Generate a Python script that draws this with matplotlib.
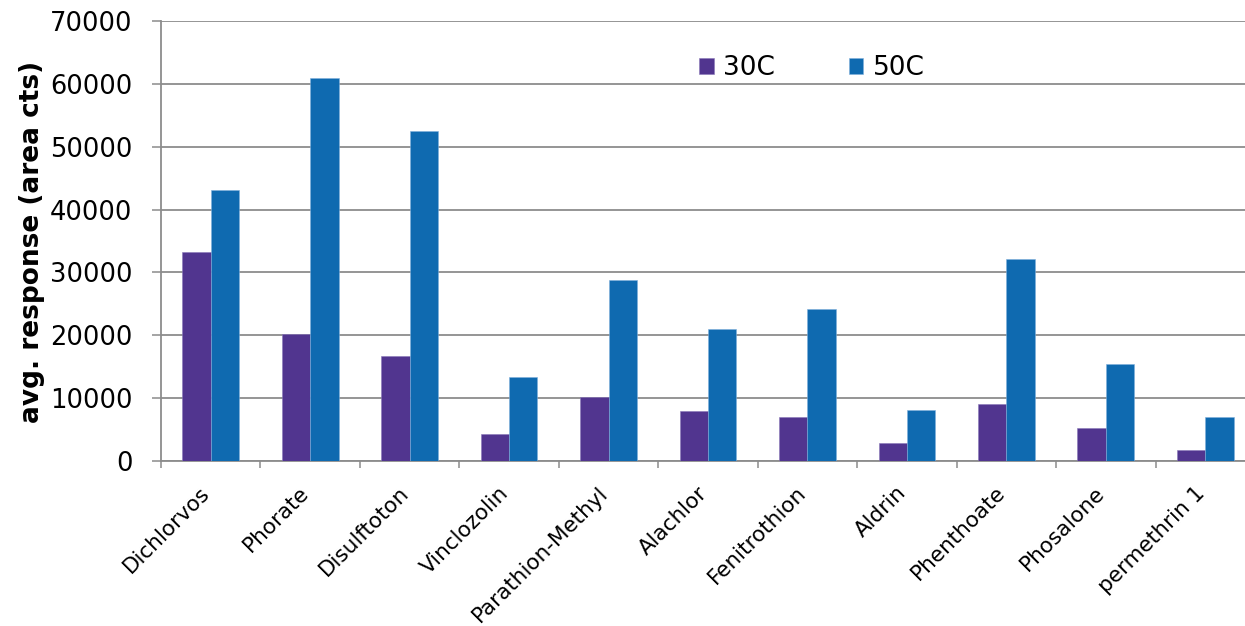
import numpy as np
import matplotlib
matplotlib.use("Agg")
import matplotlib.pyplot as plt
import matplotlib.transforms as mtransforms

# Data
compounds = ["Dichlorvos", "Phorate", "Disulftoton", "Vinclozolin", "Parathion-Methyl",
             "Alachlor", "Fenitrothion", "Aldrin", "Phenthoate", "Phosalone", "permethrin 1"]
resp_30c = [33200, 20250, 16700, 4250, 10200, 7950, 6950, 2850, 9000, 5200, 1750]
resp_50c = [43100, 61000, 52500, 13300, 28850, 21000, 24200, 8100, 32100, 15400, 7000]
y_ticks = np.arange(0, 70001, 10000)

purple = "#51358F"
blue = "#0F6AB0"
grid_grey = "#8C8C8C"

plt.rcParams["font.family"] = ["DejaVu Sans"]

fig = plt.figure(figsize=(12.45, 6.26), dpi=100)
ax = fig.add_axes([161 / 1245, 165 / 626, 11 * 99.45 / 1245, 440 / 626])

x = np.arange(len(compounds))
w = 0.285
ax.bar(x - w / 2, resp_30c, w, color=purple, label="30C", zorder=3,
       edgecolor="#8a78b8", linewidth=0.4)
ax.bar(x + w / 2, resp_50c, w, color=blue, label="50C", zorder=3,
       edgecolor="#7fb0dc", linewidth=0.4)

ax.set_xlim(-0.5, len(compounds) - 0.5)
ax.set_ylim(0, 70000)
ax.set_yticks(y_ticks)
ax.set_yticklabels([str(v) for v in y_ticks], fontsize=18.5)
ax.yaxis.grid(True, color=grid_grey, linewidth=1.3, zorder=0)

# category boundaries carry the x ticks, names sit on minor ticks
ax.set_xticks(np.arange(-0.5, len(compounds), 1.0))
ax.set_xticklabels([])
ax.set_xticks(x, minor=True)
ax.set_xticklabels(compounds, minor=True, rotation=45, ha="right", va="center",
                   rotation_mode="anchor", fontsize=15.5)
ax.tick_params(axis="x", which="minor", length=0)
ax.tick_params(axis="x", which="major", length=5, width=1.1, color=grid_grey, direction="out")
ax.tick_params(axis="y", length=6.5, width=1.1, color=grid_grey, pad=14)
offset = mtransforms.ScaledTranslation(-4 / 100, -24 / 100, fig.dpi_scale_trans)
for lbl in ax.get_xticklabels(minor=True):
    lbl.set_transform(lbl.get_transform() + offset)

for side in ["top", "right"]:
    ax.spines[side].set_visible(False)
for side in ["left", "bottom"]:
    ax.spines[side].set_color(grid_grey)
    ax.spines[side].set_linewidth(1.3)

fig.text(32 / 1245, (626 - 242) / 626, "avg. response (area cts)", rotation=90,
         fontsize=19, fontweight="bold", ha="center", va="center")

ax.legend(loc="center", bbox_to_anchor=(812 / 1245, (626 - 68) / 626),
          bbox_transform=fig.transFigure, ncol=2, frameon=False,
          fontsize=19, handlelength=0.55, handleheight=0.55, handletextpad=0.35,
          columnspacing=2.8)

fig.savefig("out.png", dpi=100)
